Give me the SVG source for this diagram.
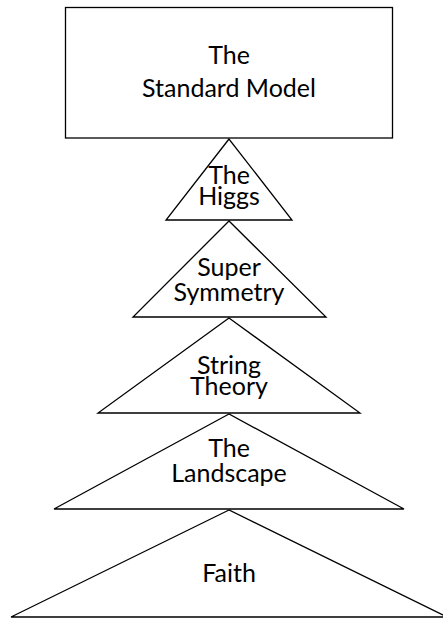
<svg xmlns="http://www.w3.org/2000/svg" width="443" height="619" viewBox="0 0 443 619">
  <style>
    .shape { fill: #fff; stroke: #000; stroke-width: 1.3; stroke-linejoin: miter; }
    .label { font-family: Lato, "Open Sans", sans-serif; font-size: 25px; fill: #000; text-anchor: middle; }
  </style>
  <rect width="443" height="619" fill="#fff"/>

  <g id="standard-model">
    <rect class="shape" x="65.5" y="7.5" width="327" height="130.5"/>
    <text class="label" x="229" y="64">The</text>
    <text class="label" x="229" y="97">Standard Model</text>
  </g>

  <g id="higgs">
    <polygon class="shape" points="229,139 166,220 292,220"/>
    <text class="label" x="229" y="184" font-size="26">The</text>
    <text class="label" x="229" y="205" font-size="26">Higgs</text>
  </g>

  <g id="super-symmetry">
    <polygon class="shape" points="229,221 133,317 326,317"/>
    <text class="label" x="229" y="276">Super</text>
    <text class="label" x="229" y="301">Symmetry</text>
  </g>

  <g id="string-theory">
    <polygon class="shape" points="229,318 98,413 360,413"/>
    <text class="label" x="229" y="374">String</text>
    <text class="label" x="229" y="395">Theory</text>
  </g>

  <g id="landscape">
    <polygon class="shape" points="229,414 54,509 404,509"/>
    <text class="label" x="229" y="457">The</text>
    <text class="label" x="229" y="482">Landscape</text>
  </g>

  <g id="faith">
    <polygon class="shape" points="229,510 11,617 447,617"/>
    <text class="label" x="229" y="582">Faith</text>
  </g>
</svg>
